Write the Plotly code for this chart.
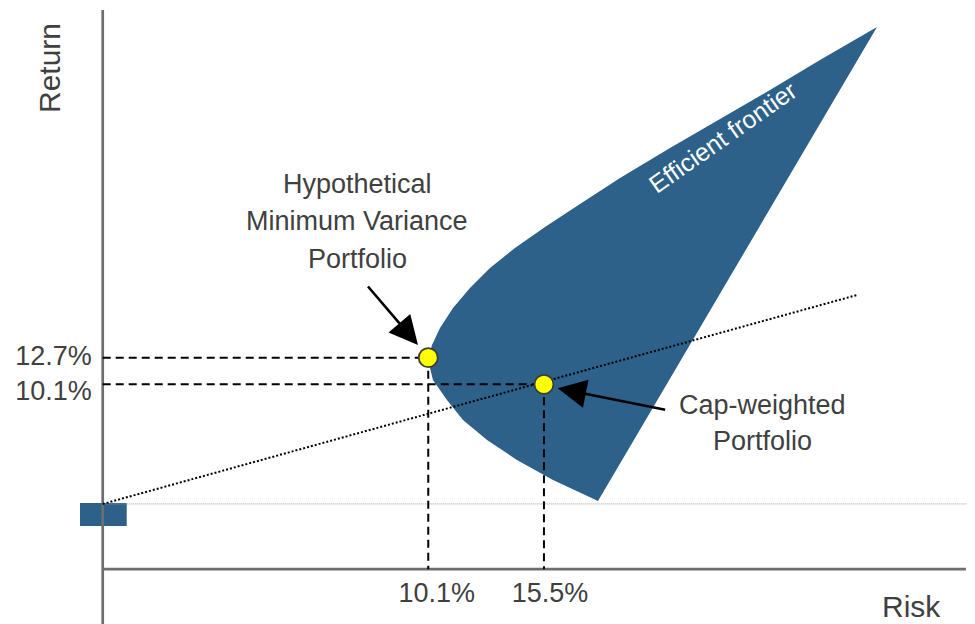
import plotly.graph_objects as go

# ---------------- data (schematic units: risk on x, return on y) ----------------
# Efficient-frontier outline (nose -> upper branch -> tip -> lower branch)
frontier_x = [37.48, 37.83, 38.75, 40.24, 42.19, 44.49, 47.36, 50.81, 54.83, 59.43,
              65.17, 70.91, 76.66, 82.40, 88.95,
              56.90, 51.73, 47.59, 44.15, 41.39, 39.55, 37.94, 37.60, 37.48]
frontier_y = [37.54, 39.67, 42.68, 46.21, 49.75, 53.29, 56.83, 60.54, 64.61, 69.21,
              74.52, 79.65, 84.78, 90.09, 95.93,
              12.07, 15.78, 19.32, 22.86, 26.40, 29.94, 33.47, 35.60, 37.54]

portfolio_names = ["Hypothetical Minimum Variance Portfolio", "Cap-weighted Portfolio"]
portfolio_risk = [37.40, 50.69]
portfolio_return = [37.42, 32.71]
risk_tick_text = ["10.1%", "15.5%"]
return_tick_text = ["12.7%", "10.1%"]

risk_free_return = 11.54
cml_x = [0.0, 86.65]
cml_y = [11.54, 48.51]
rf_box_x = [-2.61, 2.76, 2.76, -2.61, -2.61]
rf_box_y = [7.64, 7.64, 11.71, 11.71, 7.64]

# ---------------- layout constants (schematic units) ----------------
x_range = [-10.88, 100.21]
y_range = [-9.70, 99.29]
axis_x_end = 99.17
axis_y_top = 98.94
risk_tick_pos = [38.37, 51.38]      # where the tick labels sit in the picture
return_tick_pos = [37.72, 31.53]

mvp_label_lines = ["Hypothetical", "Minimum Variance", "Portfolio"]
mvp_label_x = 29.25
mvp_label_y = [68.2, 61.6, 54.9]
cap_label_lines = ["Cap-weighted", "Portfolio"]
cap_label_x = 75.74
cap_label_y = [29.05, 22.6]
mvp_arrow_tip = (36.22, 39.67)
mvp_arrow_tail = (30.33, 50.28)
cap_arrow_tip = (52.27, 32.01)
cap_arrow_tail = (64.79, 28.17)
frontier_label_pos = (71.25, 76.46)
return_label_pos = (-6.17, 88.67)
risk_label_pos = (92.87, -6.55)

# ---------------- styles ----------------
BLUE = "#2e6189"
AXIS_GREY = "#6e6e6e"
TEXT_GREY = "#404040"
FONT = "Liberation Sans, Arial, sans-serif"

fig = go.Figure()

# rf box (under axis line)
fig.add_trace(go.Scatter(x=rf_box_x, y=rf_box_y, fill="toself", fillcolor=BLUE,
                         mode="lines", line=dict(width=0, color=BLUE), hoverinfo="skip"))

# frontier
fig.add_trace(go.Scatter(x=frontier_x, y=frontier_y, fill="toself", fillcolor=BLUE,
                         mode="lines", line=dict(width=0, color=BLUE), hoverinfo="skip"))

# risk-free horizontal thin dotted line
fig.add_trace(go.Scatter(x=[0, x_range[1]], y=[risk_free_return, risk_free_return],
                         mode="lines", line=dict(color="#9a9a9a", width=1, dash="1px,1px"),
                         hoverinfo="skip"))

# axes lines
fig.add_trace(go.Scatter(x=[0, 0], y=[y_range[0], axis_y_top], mode="lines",
                         line=dict(color=AXIS_GREY, width=2.7), hoverinfo="skip"))
fig.add_trace(go.Scatter(x=[0, axis_x_end], y=[0, 0], mode="lines",
                         line=dict(color=AXIS_GREY, width=2.7), hoverinfo="skip"))

# capital market line
fig.add_trace(go.Scatter(x=cml_x, y=cml_y, mode="lines",
                         line=dict(color="black", width=2, dash="2px,2px"), hoverinfo="skip"))

# dashed guide lines
for rx, ry in zip(portfolio_risk, portfolio_return):
    fig.add_trace(go.Scatter(x=[0, rx], y=[ry, ry], mode="lines",
                             line=dict(color="black", width=2, dash="8px,5px"), hoverinfo="skip"))
    fig.add_trace(go.Scatter(x=[rx, rx], y=[ry, 0], mode="lines",
                             line=dict(color="black", width=2, dash="8px,5px"), hoverinfo="skip"))

# portfolio points
fig.add_trace(go.Scatter(x=portfolio_risk, y=portfolio_return, mode="markers",
                         text=portfolio_names, hoverinfo="text",
                         marker=dict(size=19, color="#ffff00",
                                     line=dict(color="#3c3c3c", width=1.8))))

annotations = []
for t, yy in zip(mvp_label_lines, mvp_label_y):
    annotations.append(dict(x=mvp_label_x, y=yy, text=t, showarrow=False,
                            font=dict(family=FONT, size=27, color=TEXT_GREY)))
for t, yy in zip(cap_label_lines, cap_label_y):
    annotations.append(dict(x=cap_label_x, y=yy, text=t, showarrow=False,
                            font=dict(family=FONT, size=27, color=TEXT_GREY)))
for tip, tail in [(mvp_arrow_tip, mvp_arrow_tail), (cap_arrow_tip, cap_arrow_tail)]:
    annotations.append(dict(x=tip[0], y=tip[1], ax=tail[0], ay=tail[1],
                            xref="x", yref="y", axref="x", ayref="y", text="",
                            showarrow=True, arrowhead=2, arrowsize=2.2, arrowwidth=2.6,
                            arrowcolor="black"))
annotations.append(dict(x=frontier_label_pos[0], y=frontier_label_pos[1], text="Efficient frontier",
                        showarrow=False, textangle=-35,
                        font=dict(family=FONT, size=25, color="white")))
annotations.append(dict(x=return_label_pos[0], y=return_label_pos[1], text="Return",
                        showarrow=False, textangle=-90,
                        font=dict(family=FONT, size=30, color=TEXT_GREY)))
annotations.append(dict(x=risk_label_pos[0], y=risk_label_pos[1], text="Risk", showarrow=False,
                        font=dict(family=FONT, size=30, color=TEXT_GREY)))

x_zero_frac = (0 - x_range[0]) / (x_range[1] - x_range[0])
y_zero_frac = (0 - y_range[0]) / (y_range[1] - y_range[0])

fig.update_layout(
    width=967, height=616,
    margin=dict(l=0, r=0, t=0, b=0, pad=0),
    paper_bgcolor="white", plot_bgcolor="white",
    showlegend=False,
    annotations=annotations,
    xaxis=dict(range=x_range, showgrid=False, zeroline=False, showline=False,
               anchor="free", position=y_zero_frac,
               tickmode="array", tickvals=risk_tick_pos, ticktext=risk_tick_text,
               ticks="", ticklabelstandoff=5,
               tickfont=dict(family=FONT, size=27, color=TEXT_GREY), fixedrange=True),
    yaxis=dict(range=y_range, showgrid=False, zeroline=False, showline=False,
               anchor="free", position=x_zero_frac,
               tickmode="array", tickvals=return_tick_pos, ticktext=return_tick_text,
               ticks="", ticklabelstandoff=11,
               tickfont=dict(family=FONT, size=27, color=TEXT_GREY), fixedrange=True),
)

fig.write_html("out.html")
